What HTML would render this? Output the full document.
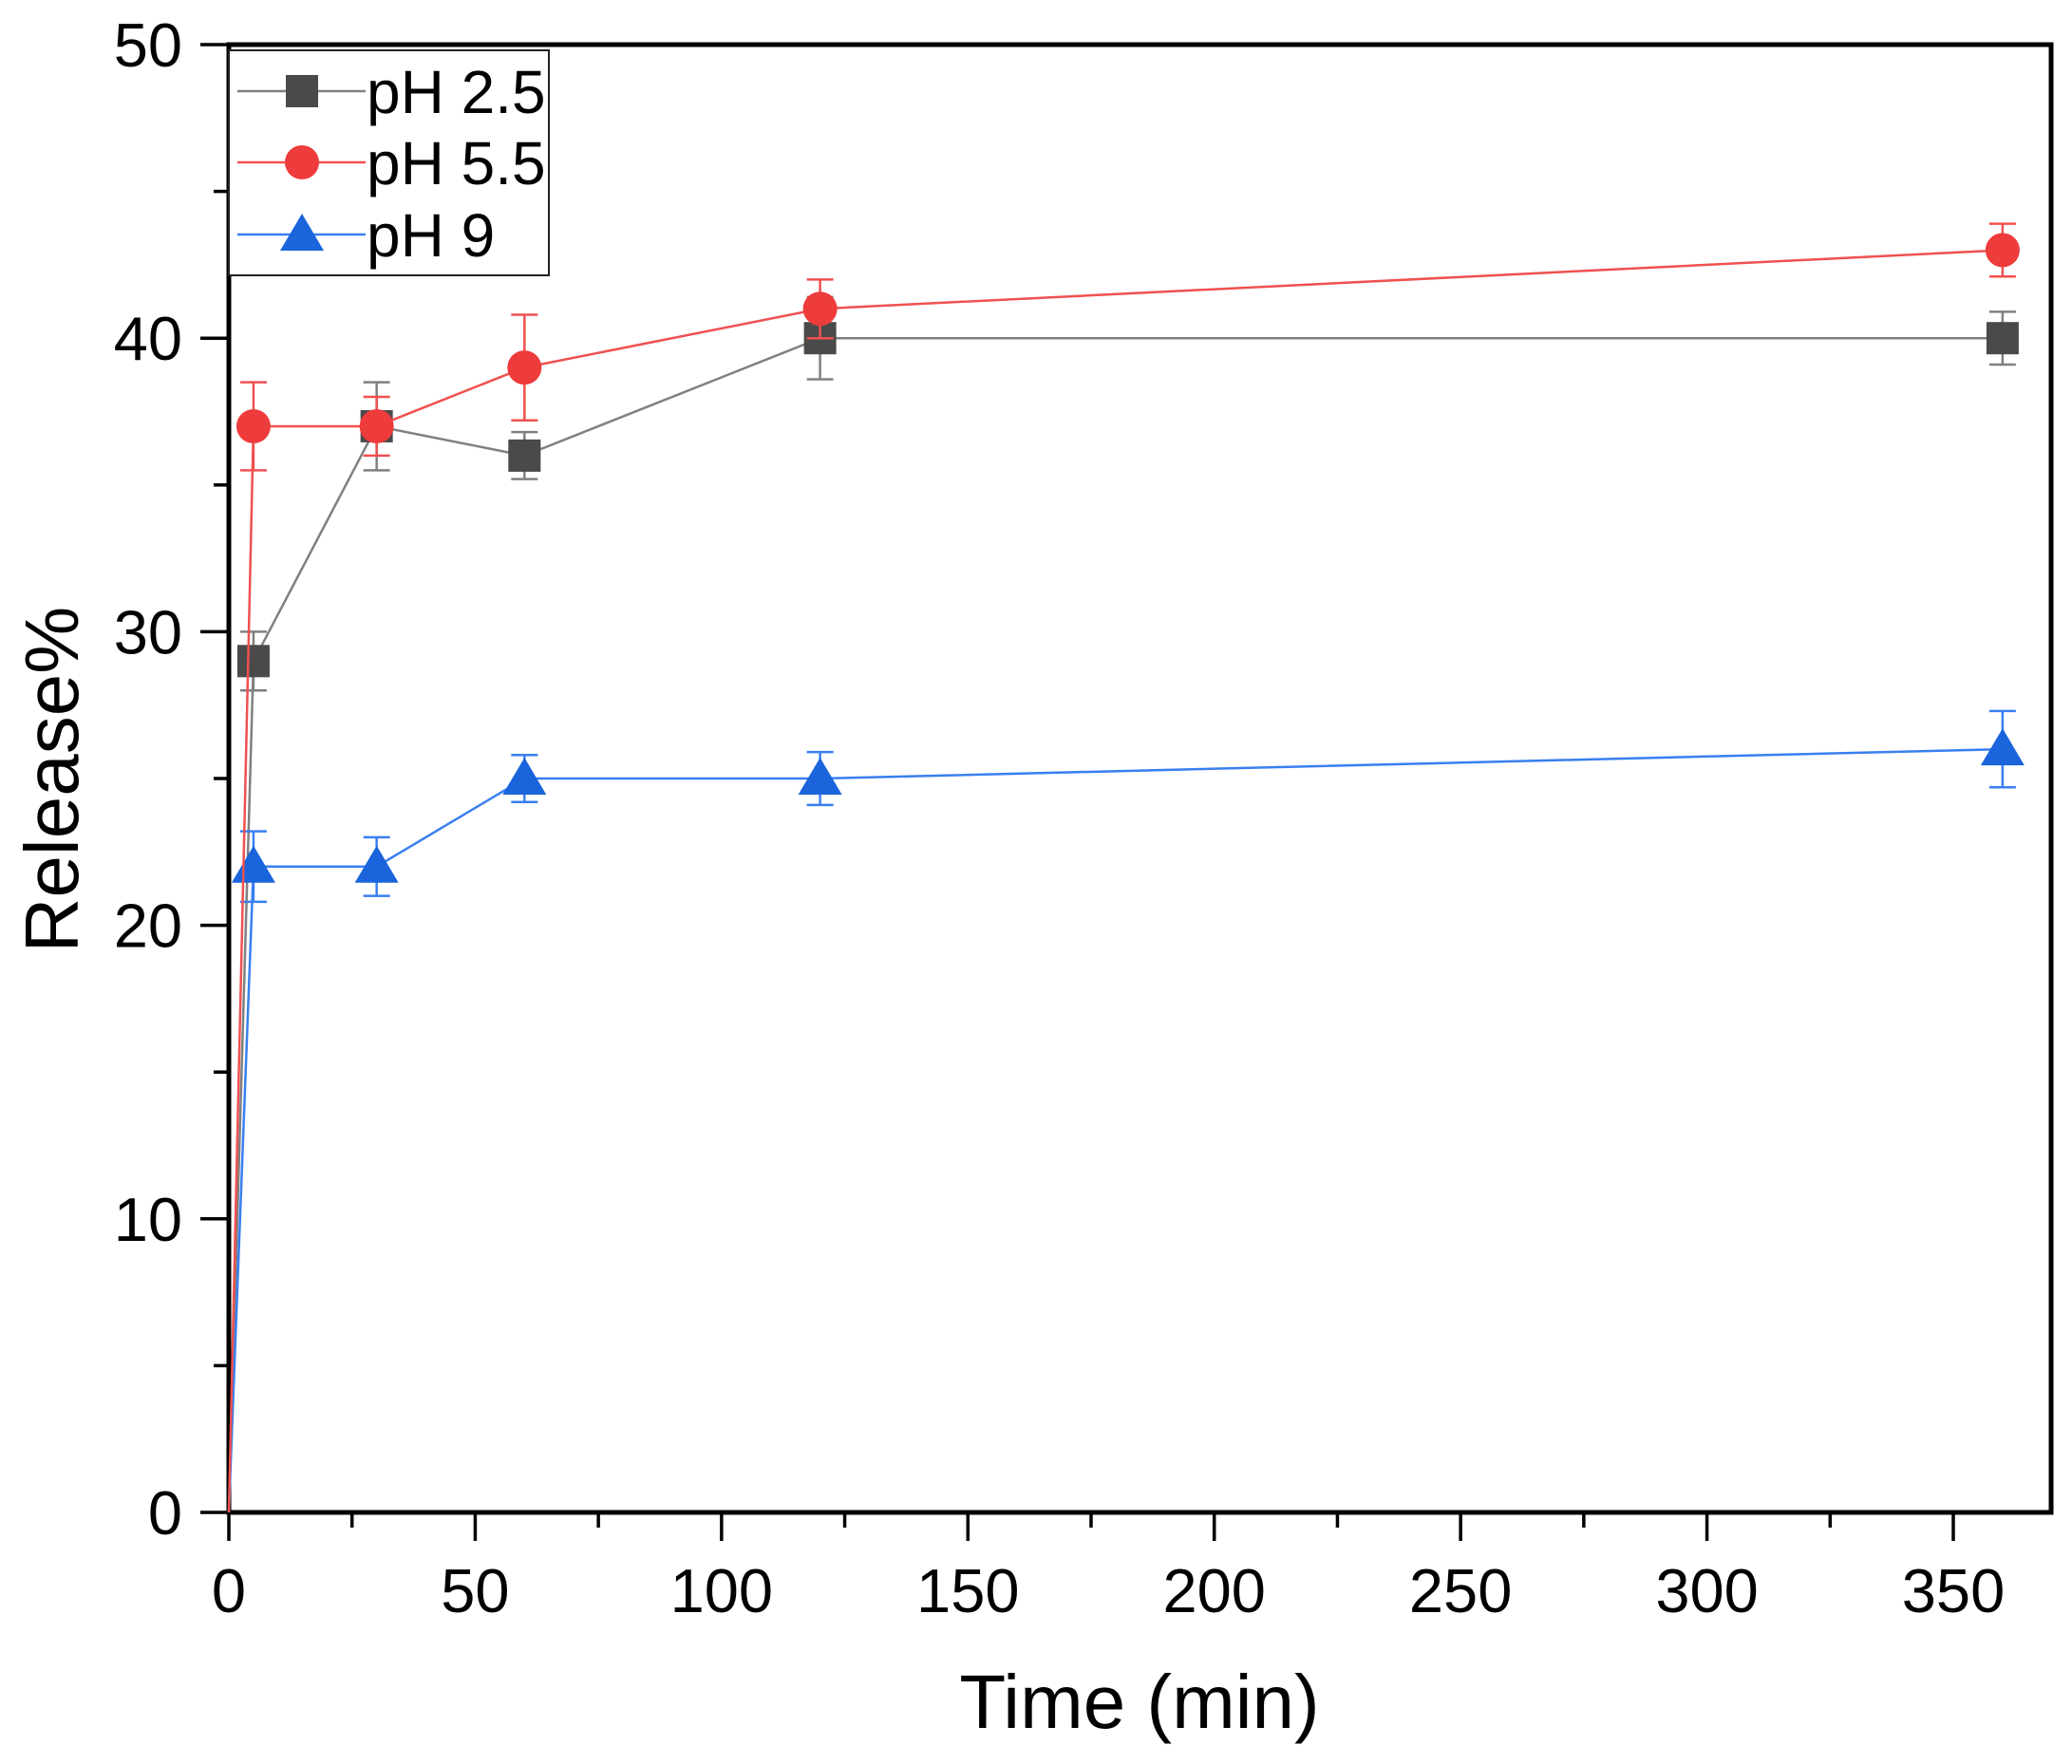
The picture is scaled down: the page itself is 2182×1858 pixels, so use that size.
<!DOCTYPE html>
<html><head><meta charset="utf-8"><style>
html,body{margin:0;padding:0;background:#fff}
svg{display:block;font-family:"Liberation Sans",Arial,sans-serif}
</style></head><body>
<svg id="chart" width="2182" height="1858" viewBox="0 0 2182 1858"></svg>
<script>
const times = [0, 5, 30, 60, 120, 360];
const ph25 = [0, 29, 37, 36, 40, 40];
const ph25Err = [0, 1, 1.5, 0.8, 1.4, 0.9];
const ph55 = [0, 37, 37, 39, 41, 43];
const ph55Err = [0, 1.5, 1, 1.8, 1, 0.9];
const ph9 = [0, 22, 22, 25, 25, 26];
const ph9Err = [0, 1.2, 1, 0.8, 0.9, 1.3];
const xTicks = [0, 50, 100, 150, 200, 250, 300, 350];
const yTicks = [0, 10, 20, 30, 40, 50];

const svg = document.getElementById('chart');
const NS = 'http://www.w3.org/2000/svg';
const L = 241, R = 2160, T = 47, B = 1593;
const X0 = 241, X350 = 2057;
function xs(v){ return X0 + v * (X350 - X0) / 350; }
function ys(v){ return B - v * (B - T) / 50; }
function mk(tag, attrs, parent){
  const e = document.createElementNS(NS, tag);
  for (const k in attrs) e.setAttribute(k, attrs[k]);
  (parent || svg).appendChild(e);
  return e;
}
const frame = mk('rect', {x:L, y:T, width:R-L, height:B-T, fill:'none', stroke:'#000', 'stroke-width':5});


for (let v = 0; v <= 350; v += 25) {
  const major = v % 50 === 0;
  const t = mk('line', {x1:xs(v), x2:xs(v), y1:B, y2:B + (major ? 30 : 16), stroke:'#000', 'stroke-width':3.5});
  
  
}
xTicks.forEach(v => {
  const t = mk('text', {x:xs(v), y:1698, 'font-size':65, 'text-anchor':'middle', fill:'#000'});
  t.textContent = v;
  
  
});
for (let v = 0; v <= 50; v += 5) {
  const major = v % 10 === 0;
  const t = mk('line', {x1:L - (major ? 30 : 16), x2:L, y1:ys(v), y2:ys(v), stroke:'#000', 'stroke-width':3.5});
  
  
}
yTicks.forEach(v => {
  const t = mk('text', {x:192, y:ys(v) + 23, 'font-size':65, 'text-anchor':'end', fill:'#000'});
  t.textContent = v;
  
  
});
const xt = mk('text', {x:1200, y:1820, 'font-size':80, 'text-anchor':'middle', fill:'#000'});
xt.textContent = 'Time (min)';


const yt = mk('text', {x:0, y:0, 'font-size':80, 'text-anchor':'middle', fill:'#000', transform:'translate(82,821) rotate(-90)'});
yt.textContent = 'Release%';



function marker(shape, cx, cy, color, parent){
  let m;
  if (shape === 'square') m = mk('rect', {x:cx-17, y:cy-17, width:34, height:34, fill:color}, parent);
  else if (shape === 'circle') m = mk('circle', {cx:cx, cy:cy, r:18, fill:color}, parent);
  else m = mk('polygon', {points:`${cx},${cy-22} ${cx-23},${cy+17} ${cx+23},${cy+17}`, fill:color}, parent);
  return m;
}
const series = [
  {name:'ph-2-5', vals:ph25, err:ph25Err, color:'#4a4a4a', line:'#808080', shape:'square'},
  {name:'ph-9', vals:ph9, err:ph9Err, color:'#1a64dc', line:'#3a7ff0', shape:'triangle'},
  {name:'ph-5-5', vals:ph55, err:ph55Err, color:'#ee3b3b', line:'#f05050', shape:'circle'}
];
series.forEach(s => {
  const g = mk('g', {});
  
  
  const pts = times.map((t,i) => xs(t) + ',' + ys(s.vals[i])).join(' ');
  const pl = mk('polyline', {points:pts, fill:'none', stroke:s.line, 'stroke-width':2.5}, g);
  
  
  times.forEach((t,i) => {
    const cx = xs(t), e = s.err[i];
    if (e > 0) {
      const eg = mk('g', {stroke:s.line, 'stroke-width':2.5}, g);
      
      
      mk('line', {x1:cx, x2:cx, y1:ys(s.vals[i]+e), y2:ys(s.vals[i]-e)}, eg);
      mk('line', {x1:cx-14, x2:cx+14, y1:ys(s.vals[i]+e), y2:ys(s.vals[i]+e)}, eg);
      mk('line', {x1:cx-14, x2:cx+14, y1:ys(s.vals[i]-e), y2:ys(s.vals[i]-e)}, eg);
    }
    if (t > 0) {
      const m = marker(s.shape, cx, ys(s.vals[i]), s.color, g);
      
      
    }
  });
});
const lg = mk('g', {});


mk('rect', {x:241, y:53, width:337, height:237, fill:'#fff', stroke:'#222', 'stroke-width':2}, lg);
const legItems = [['pH 2.5','#4a4a4a','#808080','square',96],['pH 5.5','#ee3b3b','#f05050','circle',171],['pH 9','#1a64dc','#3a7ff0','triangle',247]];
legItems.forEach(it => {
  const eg = mk('g', {}, lg);
  
  
  mk('line', {x1:250, x2:385, y1:it[4], y2:it[4], stroke:it[2], 'stroke-width':2.5}, eg);
  marker(it[3], 318, it[4], it[1], eg);
  const tx = mk('text', {x:386, y:it[4]+23, 'font-size':64, fill:'#000'}, eg);
  tx.textContent = it[0];
});
</script>
</body></html>
